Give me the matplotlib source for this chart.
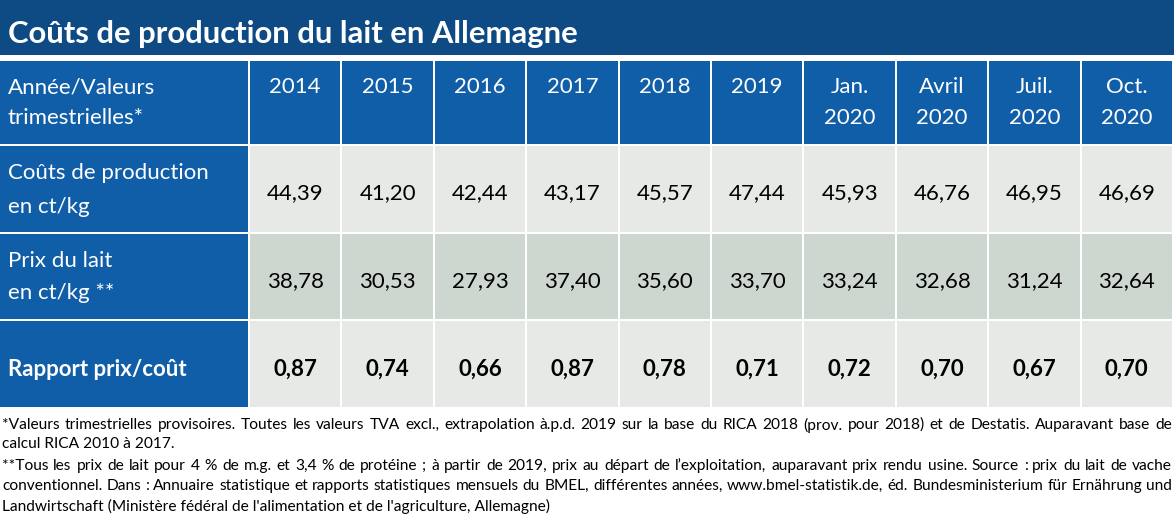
import matplotlib.pyplot as plt
from matplotlib.patches import Rectangle

title = "Coûts de production du lait en Allemagne"
corner = ["Année/Valeurs", "trimestrielles*"]
col_labels = [["2014"], ["2015"], ["2016"], ["2017"], ["2018"], ["2019"],
              ["Jan.", "2020"], ["Avril", "2020"], ["Juil.", "2020"], ["Oct.", "2020"]]
row_labels = [["Coûts de production", "en ct/kg"],
              ["Prix du lait", "en ct/kg **"],
              ["Rapport prix/coût"]]
couts = [44.39, 41.20, 42.44, 43.17, 45.57, 47.44, 45.93, 46.76, 46.95, 46.69]
prix = [38.78, 30.53, 27.93, 37.40, 35.60, 33.70, 33.24, 32.68, 31.24, 32.64]
rapport = [0.87, 0.74, 0.66, 0.87, 0.78, 0.71, 0.72, 0.70, 0.67, 0.70]
notes = [
    ("*Valeurs trimestrielles provisoires. Toutes les valeurs TVA excl., extrapolation à.p.d. 2019 sur la base du RICA 2018 (prov. pour 2018) et de Destatis. Auparavant base de", True),
    ("calcul RICA 2010 à 2017.", False),
    ("**Tous les prix de lait pour 4 % de m.g. et 3,4 % de protéine ; à partir de 2019, prix au départ de l’exploitation, auparavant prix rendu usine. Source : prix du lait de vache", True),
    ("conventionnel. Dans : Annuaire statistique et rapports statistiques mensuels du BMEL, différentes années, www.bmel-statistik.de, éd. Bundesministerium für Ernährung und", True),
    ("Landwirtschaft (Ministère fédéral de l'alimentation et de l'agriculture, Allemagne)", False),
]

FONT = "Lato"
dark = "#0e4a83"
blue = "#105ea8"
light = "#e6e9e6"
green = "#cdd7cf"

W, H = 1174, 519
fig = plt.figure(figsize=(W / 100, H / 100), dpi=100)
ax = fig.add_axes([0, 0, 1, 1])
ax.set_xlim(0, W)
ax.set_ylim(H, 0)
ax.axis("off")

def fmt(v):
    return f"{v:.2f}".replace(".", ",")

# title bar
ax.add_patch(Rectangle((0, 0), W, 55, color=dark, lw=0))
ax.text(8, 34, title, color="white", fontsize=22.3, fontweight="bold",
        family=FONT, va="center", ha="left")

# grid geometry
first_w = 248
x_start = 250
col_w = (W - x_start) / len(col_labels)
rows = [(61, 144), (146, 232), (234, 319), (321, 407)]
fills = [light, green, light]
fs = 16

# header row
top, bot = rows[0]
ax.add_patch(Rectangle((0, top), first_w, bot - top, color=blue, lw=0))
for k, line in enumerate(corner):
    ax.text(8, 87 + 31 * k, line, color="white", fontsize=fs, family=FONT,
            va="center", ha="left")
for i, lab in enumerate(col_labels):
    x0 = x_start + i * col_w
    ax.add_patch(Rectangle((x0, top), col_w - 2, bot - top, color=blue, lw=0))
    for k, line in enumerate(lab):
        ax.text(x0 + col_w / 2 - 1, 87 + 31 * k, line, color="white",
                fontsize=fs, family=FONT, va="center", ha="center")

# data rows
data = [couts, prix, rapport]
label_y = [[173, 207], [261, 293], [369]]
value_y = [193, 281, 369]
for r, (vals, lab) in enumerate(zip(data, row_labels)):
    top, bot = rows[r + 1]
    bold = "bold" if r == 2 else "normal"
    ax.add_patch(Rectangle((0, top), first_w, bot - top, color=blue, lw=0))
    for k, line in enumerate(lab):
        ax.text(8, label_y[r][k], line, color="white", fontsize=fs,
                fontweight=bold, family=FONT, va="center", ha="left")
    for i, v in enumerate(vals):
        x0 = x_start + i * col_w
        ax.add_patch(Rectangle((x0, top), col_w - 2, bot - top,
                               color=fills[r], lw=0))
        ax.text(x0 + col_w / 2 - 1, value_y[r], fmt(v), color="black",
                fontsize=fs, fontweight=bold, family=FONT,
                va="center", ha="center")

# footnotes, justified like the source
renderer = fig.canvas.get_renderer()
note_y = [425, 444, 466, 486, 506]
nfs = 11.2
for (line, just), y in zip(notes, note_y):
    if not just:
        ax.text(2, y, line, fontsize=nfs, family=FONT, va="center", ha="left")
        continue
    words = line.split(" ")
    arts = [ax.text(0, y, w, fontsize=nfs, family=FONT, va="center", ha="left")
            for w in words]
    widths = [a.get_window_extent(renderer).width for a in arts]
    gap = (W - 4 - sum(widths)) / (len(words) - 1)
    x = 2
    for a, w in zip(arts, widths):
        a.set_x(x)
        x += w + gap

fig.savefig("out.png", dpi=100)
